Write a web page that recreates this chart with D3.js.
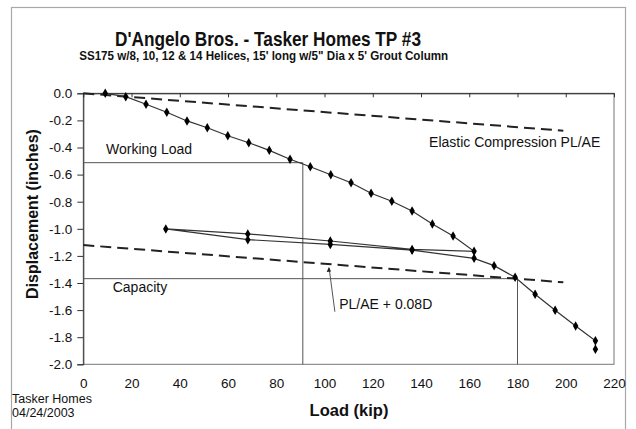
<!DOCTYPE html>
<html><head><meta charset="utf-8">
<script src="https://cdn.jsdelivr.net/npm/d3@7"></script>
<style>
body{margin:0;background:#fff}
svg{display:block}
text{font-family:"Liberation Sans",Arial,Helvetica,sans-serif;fill:#111}
</style>
</head><body>
<svg id="chart" width="636" height="429"></svg>
<script>
// ---- data ----
const loads = [9.1,17.6,26.0,34.6,43.0,51.4,59.9,68.6,77.1,85.7,94.1,102.6,111.0,119.3,127.9,136.3,144.7,153.3,162.0,
  136.3,102.4,68.2,34.2,
  68.2,102.4,136.3,162.0,170.3,179.0,187.3,195.6,204.1,212.3,212.3];
const displacements = [0.000,-0.025,-0.081,-0.140,-0.204,-0.254,-0.313,-0.365,-0.421,-0.487,-0.542,-0.601,-0.660,-0.738,-0.797,-0.869,-0.965,-1.053,-1.166,
  -1.152,-1.090,-1.038,-1.001,
  -1.080,-1.115,-1.158,-1.218,-1.272,-1.358,-1.483,-1.601,-1.717,-1.826,-1.889];
const elasticLoads = [0, 199];
const elasticDisp = [0, -0.276];
const offsetLoads = [0, 199];
const offsetDisp = [-1.12, -1.395];
const workingLoadPt = [91.0, -0.512];
const capacityPt = [180.0, -1.368];
const xTicks = [0,20,40,60,80,100,120,140,160,180,200,220];
const yTicks = [0,-0.2,-0.4,-0.6,-0.8,-1.0,-1.2,-1.4,-1.6,-1.8,-2.0];

// ---- layout ----
const svg = d3.select("#chart");
const L = 83.3, R = 614, T = 93.3, B = 364.3;
const x = d3.scaleLinear().domain([0,220]).range([L,R]);
const y = d3.scaleLinear().domain([0,-2]).range([T,B]);

// outer frame
svg.append("rect").attr("x",11.5).attr("y",7.5).attr("width",614).attr("height",440)
  .attr("fill","#fff").attr("stroke","#a8a8a8").attr("stroke-width",1.2);

// plot border
svg.append("rect").attr("x",L).attr("y",T).attr("width",R-L).attr("height",B-T)
  .attr("fill","none").attr("stroke","#777").attr("stroke-width",1);

// titles
svg.append("text").attr("x",268).attr("y",45.5).attr("text-anchor","middle")
  .attr("font-size",21).attr("font-weight","bold")
  .attr("textLength",306).attr("lengthAdjust","spacingAndGlyphs")
  .text("D'Angelo Bros. - Tasker Homes TP #3");
svg.append("text").attr("x",263.7).attr("y",60).attr("text-anchor","middle")
  .attr("font-size",13).attr("font-weight","bold")
  .attr("textLength",369).attr("lengthAdjust","spacingAndGlyphs")
  .text("SS175 w/8, 10, 12 & 14 Helices, 15' long w/5\" Dia x 5' Grout Column");

// y axis
const yAxis = svg.append("g").attr("transform",`translate(${L},0)`)
  .call(d3.axisLeft(y).tickValues(yTicks).tickSize(6).tickPadding(5)
    .tickFormat(d => d.toFixed(1)));
yAxis.select(".domain").attr("stroke","#333");
yAxis.selectAll(".tick line").attr("stroke","#333");
yAxis.selectAll("text").attr("font-size",13.5).style("font-family","Liberation Sans, Arial, sans-serif").attr("fill","#111");

// x axis line at y=0 (top) with ticks pointing down
const xTop = svg.append("g").attr("transform",`translate(0,${T})`)
  .call(d3.axisBottom(x).tickValues(xTicks).tickSize(4).tickSizeOuter(0).tickFormat(""));
xTop.select(".domain").attr("stroke","#222");
xTop.selectAll(".tick line").attr("stroke","#333");

// x labels at bottom
const xBot = svg.append("g").attr("transform",`translate(0,${B})`)
  .call(d3.axisBottom(x).tickValues(xTicks).tickSize(0).tickPadding(14.5).tickFormat(d => d));
xBot.select(".domain").remove();
xBot.selectAll("text").attr("font-size",13.5).style("font-family","Liberation Sans, Arial, sans-serif").attr("fill","#111");

// axis titles
svg.append("text").attr("transform","translate(38,214) rotate(-90)")
  .attr("text-anchor","middle").attr("font-size",16).attr("font-weight","bold")
  .text("Displacement (inches)");
svg.append("text").attr("x",349).attr("y",416).attr("text-anchor","middle")
  .attr("font-size",16.5).attr("font-weight","bold").text("Load (kip)");

// footer
svg.append("text").attr("x",12).attr("y",403).attr("font-size",12.5).text("Tasker Homes");
svg.append("text").attr("x",12).attr("y",417).attr("font-size",12.5).text("04/24/2003");

// reference lines: working load & capacity
const refColor = "#555";
function refLines(pt){
  svg.append("line").attr("x1",x(0)).attr("x2",x(pt[0])).attr("y1",y(pt[1])).attr("y2",y(pt[1]))
    .attr("stroke",refColor).attr("stroke-width",1);
  svg.append("line").attr("x1",x(pt[0])).attr("x2",x(pt[0])).attr("y1",y(pt[1])).attr("y2",y(-2))
    .attr("stroke",refColor).attr("stroke-width",1);
}
refLines(workingLoadPt);
refLines(capacityPt);

// dashed lines
const line = d3.line().x(d=>x(d[0])).y(d=>y(d[1]));
svg.append("path").attr("d", line(d3.zip(elasticLoads, elasticDisp)))
  .attr("fill","none").attr("stroke","#222").attr("stroke-width",2).attr("stroke-dasharray","11,6");
svg.append("path").attr("d", line(d3.zip(offsetLoads, offsetDisp)))
  .attr("fill","none").attr("stroke","#222").attr("stroke-width",2).attr("stroke-dasharray","11,6");

// data series
const pts = d3.zip(loads, displacements);
svg.append("path").attr("d", line(pts)).attr("fill","none").attr("stroke","#333").attr("stroke-width",1.2);
svg.append("g").selectAll("path").data(pts).join("path")
  .attr("transform", d => `translate(${x(d[0])},${y(d[1])})`)
  .attr("d", d3.symbol(d3.symbolDiamond, 26))
  .attr("fill","#000");

// annotations
svg.append("text").attr("x",x(9.4)).attr("y",y(-0.448)).attr("font-size",14).text("Working Load");
svg.append("text").attr("x",x(214.3)).attr("y",y(-0.394)).attr("text-anchor","end").attr("font-size",14).text("Elastic Compression PL/AE");
svg.append("text").attr("x",x(12.2)).attr("y",y(-1.47)).attr("font-size",14).text("Capacity");
svg.append("text").attr("x",x(106.1)).attr("y",y(-1.592)).attr("font-size",14).text("PL/AE + 0.08D");

// arrow
svg.append("line").attr("x1",x(104.3)).attr("y1",y(-1.612)).attr("x2",x(101.9)).attr("y2",y(-1.29))
  .attr("stroke","#555").attr("stroke-width",1);
const ax = x(101.8), ay = y(-1.281);
svg.append("path").attr("d",`M${ax},${ay} L${ax-2.2},${ay+5} L${ax+2.2},${ay+4.6} Z`).attr("fill","#222");
</script>
</body></html>
